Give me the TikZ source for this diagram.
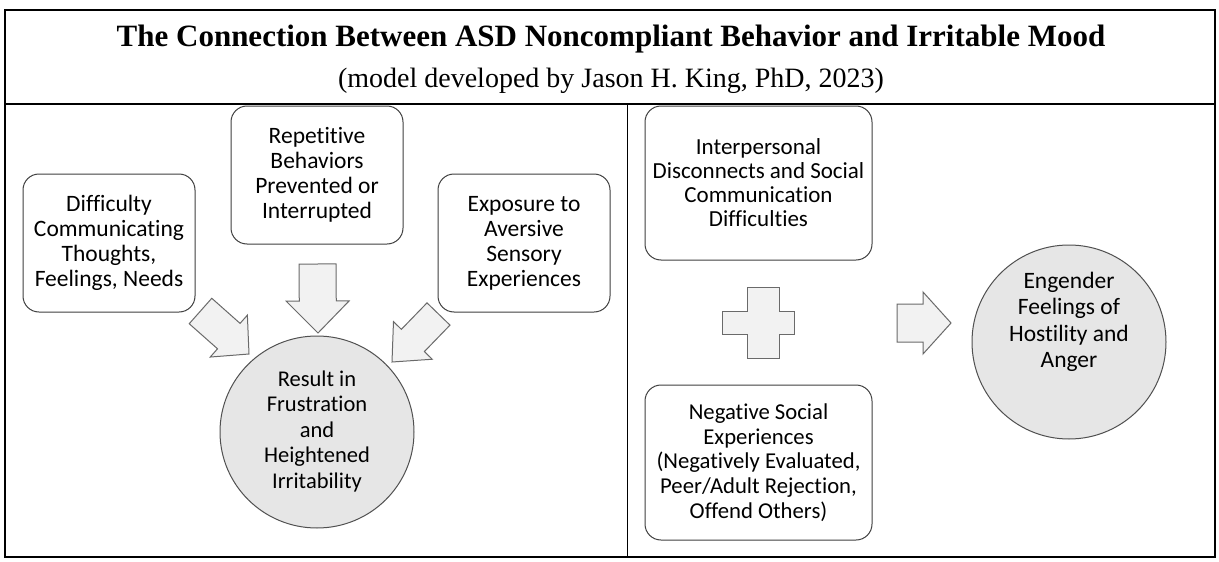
\documentclass[tikz,border=0pt]{standalone}
\usepackage{fontspec}
\setmainfont{Liberation Serif}
\newfontfamily\calfont[Ligatures=NoCommon]{Carlito}
\usetikzlibrary{calc,shapes.geometric}
\definecolor{boxline}{HTML}{404040}
\definecolor{arrline}{HTML}{6A6A6A}
\definecolor{arrfill}{HTML}{F2F2F2}
\definecolor{circfill}{HTML}{E6E6E6}
\definecolor{circline}{HTML}{505050}
\tikzset{
  x=1pt, y=-1pt,
  frameline/.style={draw=black, line width=1.2pt},
  txtbox/.style={draw=boxline, line width=1pt, rounded corners=16pt, fill=white,
    align=center, inner sep=0pt, font=\calfont\fontsize{23.5}{25}\selectfont},
  bubble/.style={ellipse, draw=circline, line width=1pt, fill=circfill, inner sep=0pt},
  bubbletext/.style={align=center, inner sep=0pt, font=\calfont\fontsize{22.5}{25.5}\selectfont},
  blockarrow/.style={draw=arrline, line width=1pt, fill=arrfill, line join=miter},
}
% #1 tail, #2 tip, #3 half shaft width, #4 half head width, #5 head length
\newcommand\blockarr[5]{%
  \coordinate (ha) at ($(#2)!#5!(#1)$);
  \path[blockarrow]
    ($(#1)!#3!90:(#2)$) -- ($(ha)!#3!-90:(#1)$) -- ($(ha)!#4!-90:(#1)$) -- (#2)
    -- ($(ha)!#4!90:(#1)$) -- ($(ha)!#3!90:(#1)$) -- ($(#1)!#3!-90:(#2)$) -- cycle;
}
\begin{document}
\begin{tikzpicture}
\useasboundingbox (0,0) rectangle (1219,562);
\fill[white] (0,0) rectangle (1219,562);
% frame
\draw[frameline] (5,10) rectangle (1215,557);
\draw[frameline] (5,104) -- (1215,104);
\draw[black, line width=0.8pt] (627,104) -- (627,557);
% title
\node[font=\bfseries\fontsize{31}{34}\selectfont, inner sep=0pt] (title) at (611,39) {The Connection Between ASD Noncompliant Behavior and Irritable Mood};
\node[font=\fontsize{28}{32}\selectfont, inner sep=0pt] (subtitle) at (611,81) {(model developed by Jason H. King, PhD, 2023)};
% left panel boxes
\node[txtbox, minimum width=172pt, minimum height=138pt] (b1) at (109,243) {Difficulty\\Communicating\\Thoughts,\\Feelings, Needs};
\node[txtbox, minimum width=172pt, minimum height=138pt] (b2) at (317,175) {Repetitive\\Behaviors\\Prevented or\\Interrupted};
\node[txtbox, minimum width=172pt, minimum height=138pt] (b3) at (524,243) {Exposure to\\Aversive\\Sensory\\Experiences};
\node[bubble, minimum width=194pt, minimum height=192pt] (c1) at (317,432) {};
\node[bubbletext] (c1t) at (317,431) {Result in\\Frustration\\and\\Heightened\\Irritability};
% arrows left
\coordinate (t1) at (200.5,311); \coordinate (p1) at (249,354);
\blockarr{t1}{p1}{17pt}{28pt}{27pt}
\coordinate (t2) at (317.5,264); \coordinate (p2) at (318,333);
\blockarr{t2}{p2}{18.5pt}{31.5pt}{32pt}
\coordinate (t3) at (438.5,314); \coordinate (p3) at (392,362);
\blockarr{t3}{p3}{16pt}{27pt}{30pt}
% right panel
\node[txtbox, minimum width=227pt, minimum height=154pt, font=\calfont\fontsize{23}{24}\selectfont] (b4) at (758.5,183) {Interpersonal\\Disconnects and Social\\Communication\\Difficulties};
\node[txtbox, minimum width=227pt, minimum height=155pt, font=\calfont\fontsize{22.7}{24.8}\selectfont] (b5) at (758.5,462.5) {Negative Social\\Experiences\\(Negatively Evaluated,\\Peer/Adult Rejection,\\Offend Others)};
% plus
\path[blockarrow] (747,287) -- (779,287) -- (779,311) -- (794,311) -- (794,334) -- (779,334) -- (779,358) -- (747,358) -- (747,334) -- (722,334) -- (722,311) -- (747,311) -- cycle;
% right arrow
\coordinate (t4) at (897,323); \coordinate (p4) at (951,323);
\blockarr{t4}{p4}{19pt}{31pt}{28pt}
\node[bubble, minimum width=194pt, minimum height=194pt] (c2) at (1069,342) {};
\node[bubbletext, font=\calfont\fontsize{23.5}{26.3}\selectfont] (c2t) at (1069,322) {Engender\\Feelings of\\Hostility and\\Anger};
\end{tikzpicture}
\end{document}
